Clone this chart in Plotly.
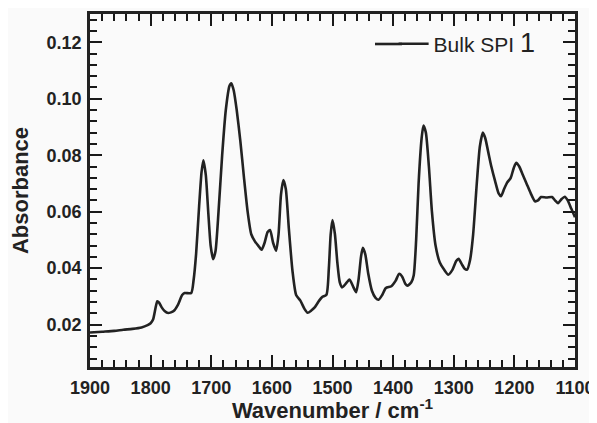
import plotly.graph_objects as go

wavenumber = [1900, 1880, 1860, 1845, 1830, 1815, 1805, 1800, 1796, 1792, 1789, 1786, 1782, 1777, 1771, 1762, 1755, 1748,
              1744, 1733, 1729, 1725, 1720, 1716, 1713, 1709, 1705, 1701, 1697, 1693, 1688, 1682, 1676, 1670, 1667, 1663,
              1658, 1652, 1646, 1640, 1634, 1628, 1622, 1617, 1612, 1607, 1603, 1598, 1593, 1589, 1585, 1581, 1577, 1572,
              1566, 1560, 1553, 1546, 1541, 1535, 1529, 1522, 1517, 1510, 1506, 1503, 1500, 1496, 1492, 1488, 1484, 1478,
              1472, 1466, 1461, 1457, 1453, 1450, 1446, 1441, 1435, 1429, 1424, 1418, 1412, 1403, 1396, 1390, 1385, 1380,
              1376, 1370, 1366, 1362, 1358, 1353, 1350, 1346, 1341, 1336, 1330, 1323, 1316, 1309, 1302, 1296, 1292, 1287,
              1282, 1278, 1273, 1268, 1262, 1257, 1252, 1248, 1243, 1238, 1232, 1226, 1222, 1217, 1212, 1206, 1201, 1197,
              1192, 1186, 1180, 1173, 1166, 1161, 1156, 1147, 1138, 1133, 1128, 1122, 1117, 1112, 1106, 1100]
absorbance = [0.0172, 0.0175, 0.0178, 0.0182, 0.0185, 0.0190, 0.0198, 0.0205, 0.0218, 0.0258, 0.0283, 0.0278, 0.0262,
              0.0248, 0.0241, 0.0248, 0.0270, 0.0305, 0.0312, 0.0312, 0.0360, 0.0450, 0.0620, 0.0740, 0.0782, 0.0730,
              0.0600, 0.0480, 0.0432, 0.0460, 0.0600, 0.0800, 0.0960, 0.1045, 0.1055, 0.1030, 0.0960, 0.0850, 0.0720,
              0.0600, 0.0520, 0.0495, 0.0478, 0.0465, 0.0490, 0.0528, 0.0535, 0.0490, 0.0462, 0.0520, 0.0660, 0.0712,
              0.0680, 0.0540, 0.0390, 0.0305, 0.0285, 0.0255, 0.0242, 0.0250, 0.0262, 0.0285, 0.0298, 0.0306, 0.0400,
              0.0520, 0.0570, 0.0520, 0.0420, 0.0350, 0.0332, 0.0345, 0.0360, 0.0335, 0.0315, 0.0360, 0.0440, 0.0472,
              0.0450, 0.0380, 0.0320, 0.0295, 0.0288, 0.0305, 0.0330, 0.0336, 0.0355, 0.0380, 0.0370, 0.0345, 0.0338,
              0.0350, 0.0375, 0.0500, 0.0700, 0.0860, 0.0905, 0.0880, 0.0760, 0.0600, 0.0480, 0.0420, 0.0395, 0.0377,
              0.0395, 0.0425, 0.0433, 0.0415, 0.0398, 0.0395, 0.0430, 0.0520, 0.0700, 0.0830, 0.0880, 0.0860, 0.0810,
              0.0760, 0.0710, 0.0665, 0.0655, 0.0680, 0.0703, 0.0720, 0.0755, 0.0773, 0.0760, 0.0730, 0.0700, 0.0665,
              0.0637, 0.0640, 0.0652, 0.0650, 0.0652, 0.0640, 0.0630, 0.0645, 0.0653, 0.0640, 0.0610, 0.0580]

series_name = "Bulk SPI <span style='font-size:27px'>1</span>"

FONT = "Liberation Sans, Arial, sans-serif"
INK = "#222222"
TICK = "rgb(25,25,25)"

fig = go.Figure()
fig.add_trace(go.Scatter(
    x=wavenumber, y=absorbance, mode="lines", name=series_name,
    line=dict(color=INK, width=2.6, shape="spline", smoothing=0.6),
))

def axis_style():
    return dict(
        showline=True, linecolor=INK, linewidth=2.5, mirror="allticks",
        ticks="inside", ticklen=12, tickwidth=2, tickcolor=TICK, layer="above traces",
        showgrid=False, zeroline=False, automargin=False,
        tickfont=dict(family=FONT, size=18, color=INK, weight="bold"),
    )

fig.update_layout(
    width=589, height=415,
    margin=dict(l=82, r=22, t=6, b=56),
    paper_bgcolor="#fafafa", plot_bgcolor="#fafafa",
    showlegend=True,
    legend=dict(x=0.626, y=0.973, xanchor="left", yanchor="top",
                bgcolor="rgba(0,0,0,0)",
                font=dict(family=FONT, size=21, color=INK)),
    shapes=[dict(type="line", xref="paper", yref="paper",
                 x0=(375 - 90) / 485, x1=(402 - 90) / 485,
                 y0=(367 - 44) / 353, y1=(367 - 44) / 353,
                 line=dict(color=INK, width=2.6))],
    xaxis=dict(
        range=[1900, 1100], tickmode="linear", tick0=1100, dtick=100, ticklabelstandoff=3,
        title=dict(text="<b>Wavenumber / cm<sup>-1</sup></b>", font=dict(family=FONT, size=22, color=INK), standoff=13),
        minor=dict(ticks="inside", ticklen=7, tickwidth=1.8, tickcolor=TICK, dtick=20, showgrid=False),
        **axis_style(),
    ),
    yaxis=dict(
        range=[0.005, 0.13], tickmode="linear", tick0=0.02, dtick=0.02, tickformat=".2f", ticklabelstandoff=2,
        title=dict(text="<b>Absorbance</b>", font=dict(family=FONT, size=22, color=INK), standoff=12),
        minor=dict(ticks="inside", ticklen=7, tickwidth=1.8, tickcolor=TICK, dtick=0.004, showgrid=False),
        **axis_style(),
    ),
)

fig.write_html("out.html")
